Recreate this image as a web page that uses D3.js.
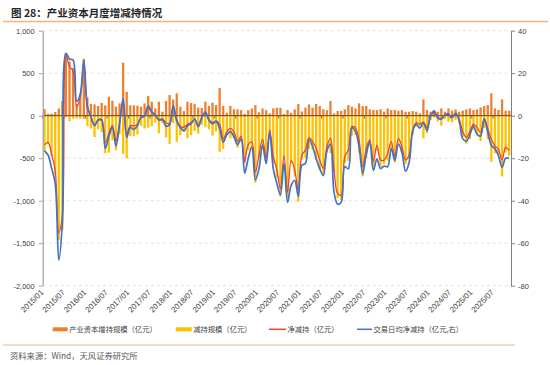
<!DOCTYPE html>
<html><head><meta charset="utf-8">
<script src="https://cdn.jsdelivr.net/npm/d3@7"></script>
<style>
body{margin:0;background:#fff;}
text{font-family:"Liberation Sans","Noto Sans CJK SC",Arial,sans-serif;}
.cjk{font-family:"Noto Sans CJK SC","Liberation Sans",sans-serif;}
</style></head>
<body><svg id="c" width="550" height="365"></svg>
<script>
// ---- categories ----
const months = [];
for (let y = 2015; y <= 2025; y++) for (let m = 1; m <= 12; m++) {
  if (y === 2025 && m > 11) break;
  months.push(y + "/" + String(m).padStart(2, "0"));
}
const tickLabels = ["2015/01","2015/07","2016/01","2016/07","2017/01","2017/07","2018/01","2018/07","2019/01","2019/07","2020/01","2020/07","2021/01","2021/07","2022/01","2022/07","2023/01","2023/07","2024/01","2024/07","2025/01","2025/07"];
const leftTicks = [-2000,-1500,-1000,-500,0,500,1000];
const rightTicks = [-80,-60,-40,-20,0,20,40];

// ---- series (亿元) ----
const increase = [78,22,25,45,85,172,735,640,560,140,255,670,215,140,133,114,150,
122,224,176,106,145,624,282,122,122,118,105,145,231,165,86,165,47,172,243,190,263,106,55,165,150,140,95,
90,165,115,155,125,325,115,35,115,75,75,65,20,65,85,125,40,85,65,27,86,94,94,20,67,35,75,137,50,95,133,95,137,113,75,65,173,27,55,55,75,125,
106,86,145,114,114,75,67,67,75,47,86,67,67,59,67,47,47,55,47,27,192,67,47,60,47,86,47,86,59,75,47,59,75,86,67,75,98,114,125,263,86,67,192,59,59];
const decrease = [-420,-336,-480,-690,-1460,-1340,-15,-64,-35,-34,-35,-40,-120,-150,-250,-160,-195,
-442,-434,-290,-406,-220,-450,-500,-237,-242,-220,-120,-150,-140,-125,-80,-208,-85,-255,-335,-85,-307,-230,-190,-265,-230,-180,-210,
-110,-135,-160,-235,-185,-425,-390,-225,-265,-265,-375,-305,-560,-405,-395,-790,-500,-360,-560,-195,-566,-730,-950,-490,-965,-560,-715,-1010,-515,-500,-390,-400,-520,-635,-695,-430,-440,-665,-970,-990,-555,-530,
-235,-226,-435,-714,-498,-361,-608,-412,-597,-569,-529,-373,-549,-326,-432,-569,-510,-224,-129,-125,-267,-208,-51,-25,-67,-117,-39,-70,-79,-48,-90,-247,-330,-274,-165,-216,-298,-145,-274,-541,-443,-463,-714,-432,-471];
const netChange = [-342,-314,-455,-645,-1375,-1168,720,576,525,106,220,630,95,-10,-117,-46,-45,
-320,-210,-114,-300,-75,174,-218,-115,-120,-102,-15,-5,91,40,6,-43,-38,-83,-92,105,-44,-124,-135,-100,-80,-40,-115,
-20,30,-45,-80,-60,-100,-275,-190,-150,-190,-300,-240,-540,-340,-310,-665,-460,-275,-495,-168,-480,-636,-856,-470,-898,-525,-640,-873,-465,-405,-257,-305,-383,-522,-620,-365,-267,-638,-915,-935,-480,-405,
-129,-140,-290,-600,-384,-286,-541,-345,-522,-522,-443,-306,-482,-267,-365,-522,-463,-169,-82,-98,-75,-141,-4,35,-20,-31,8,16,-20,27,-43,-188,-255,-188,-98,-141,-200,-31,-149,-278,-357,-396,-522,-373,-412];
const dailyNet = [-16.6,-18.5,-24.8,-31.8,-68,-50,29.3,26.7,26.2,6.8,10,26,4.5,-0.6,-4.6,-2.1,-2.1,
-15.4,-9.9,-5.5,-14.3,-4.2,8.2,-10.2,-5.5,-6.5,-4.6,-0.8,-0.2,4.6,1.9,0.3,-2.0,-1.9,-5.0,-4.2,4.8,-2.6,-5.6,-7.1,-4.8,-3.8,-1.6,-5.2,
-1.0,1.8,-2.1,-3.8,-2.7,-6.0,-12.5,-9.0,-7.5,-9.9,-13.6,-10.9,-27.0,-20.0,-14.8,-30.2,-25.0,-13.8,-22.5,-8.0,-25.0,-31.8,-37.2,-22.4,-40.8,-32.8,-30.5,-38.0,-23.3,-22.5,-11.2,-14.5,-20.2,-24.9,-28.2,-16.6,-13.4,-36.0,-41.6,-40.7,-24.0,-25.0,
-5.6,-7.4,-14.5,-27.3,-18.3,-12.4,-25.8,-20.3,-24.9,-23.7,-24.0,-15.3,-21.0,-13.4,-17.4,-26.1,-22.0,-7.3,-4.1,-5.8,-3.4,-7.0,-0.2,2.3,-1.0,-1.6,0.4,0.8,-0.9,1.2,-2.3,-10.8,-12.1,-9.0,-4.9,-8.8,-9.5,-1.6,-7.8,-14.0,-15.5,-18.9,-24.3,-20.0,-20.0];

const legendItems = [
  {name:"产业资本增持规模（亿元）", type:"bar", color:"#F07F2C", x:52.7, w:15},
  {name:"减持规模（亿元）", type:"bar", color:"#FFC000", x:175.7, w:16},
  {name:"净减持（亿元）", type:"line", color:"#E8452E", x:269, w:17},
  {name:"交易日均净减持（亿元,右）", type:"line", color:"#4472C4", x:357, w:15}
];

// ---- layout ----
const svg = d3.select("#c");
const L = 42.7, R = 511, T = 30.7, B = 285.7;
const x = d3.scaleBand().domain(months).range([L, R]).paddingInner(0.36).paddingOuter(0.18);
const yL = d3.scaleLinear().domain([-2000, 1000]).range([B, T]);
const yR = d3.scaleLinear().domain([-80, 40]).range([B, T]);
const cx = d => x(d) + x.bandwidth() / 2;
const fmt = v => d3.format(",")(v).replace("\u2212", "-");

// title
svg.append("text").attr("class","cjk").attr("x", 11).attr("y", 16.5)
  .attr("font-size", 10.5).attr("font-weight", "bold").attr("fill", "#262626")
  .text("图 28：产业资本月度增减持情况");
svg.append("line").attr("x1", 3).attr("x2", 548).attr("y1", 21.5).attr("y2", 21.5)
  .attr("stroke", "#F4B183").attr("stroke-width", 1.3);

// gridlines
svg.append("g").selectAll("line").data(leftTicks.filter(d => d !== 0)).join("line")
  .attr("x1", L).attr("x2", R).attr("y1", d => yL(d)).attr("y2", d => yL(d))
  .attr("stroke", "#d9d9d9").attr("stroke-width", 0.8).attr("stroke-dasharray", "3,3");

// bars
const data = months.map((m, i) => ({m, inc: increase[i], dec: decrease[i], net: netChange[i], avg: dailyNet[i]}));
svg.append("g").selectAll("rect").data(data).join("rect")
  .attr("x", d => x(d.m)).attr("width", x.bandwidth())
  .attr("y", d => yL(d.inc)).attr("height", d => yL(0) - yL(d.inc))
  .attr("fill", "#F07F2C");
svg.append("g").selectAll("rect").data(data).join("rect")
  .attr("x", d => x(d.m)).attr("width", x.bandwidth())
  .attr("y", yL(0)).attr("height", d => yL(d.dec) - yL(0))
  .attr("fill", "#FFC000");

// zero axis line + ticks
svg.append("line").attr("x1", L).attr("x2", R).attr("y1", yL(0)).attr("y2", yL(0))
  .attr("stroke", "#6e5c2e").attr("stroke-width", 1.2);
const step = x.step();
svg.append("g").selectAll("line").data(tickLabels).join("line")
  .attr("x1", d => x(d) - (step - x.bandwidth()) / 2).attr("x2", d => x(d) - (step - x.bandwidth()) / 2)
  .attr("y1", yL(0)).attr("y2", yL(0) + 3)
  .attr("stroke", "#595959").attr("stroke-width", 0.8);

// lines
svg.append("path").datum(data)
  .attr("d", d3.line().x(d => cx(d.m)).y(d => yL(d.net)).curve(d3.curveCatmullRom.alpha(0.5)))
  .attr("fill", "none").attr("stroke", "#E8452E").attr("stroke-width", 1.3);
svg.append("path").datum(data)
  .attr("d", d3.line().x(d => cx(d.m)).y(d => yR(d.avg)).curve(d3.curveCatmullRom.alpha(0.5)))
  .attr("fill", "none").attr("stroke", "#4472C4").attr("stroke-width", 1.7);

// left axis
const gl = svg.append("g").attr("transform", `translate(${L},0)`)
  .call(d3.axisLeft(yL).tickValues(leftTicks).tickFormat(fmt).tickSize(4).tickSizeOuter(0).tickPadding(4));
gl.select(".domain").attr("stroke", "#a6a6a6").attr("stroke-width", 1.3);
gl.selectAll(".tick line").attr("stroke", "#a6a6a6");
gl.selectAll("text").attr("font-size", 7.5).attr("fill", "#404040");

// right axis
const gr = svg.append("g").attr("transform", `translate(${R},0)`)
  .call(d3.axisRight(yR).tickValues(rightTicks).tickFormat(fmt).tickSize(4).tickSizeOuter(0).tickPadding(3));
gr.select(".domain").attr("stroke", "#808080").attr("stroke-width", 1);
gr.selectAll(".tick line").attr("stroke", "#808080");
gr.selectAll("text").attr("font-size", 7.5).attr("fill", "#404040");

// x labels
svg.append("g").selectAll("text").data(tickLabels).join("text")
  .attr("transform", d => `translate(${cx(d) - 0.5},${293}) rotate(-45)`)
  .attr("text-anchor", "end").attr("font-size", 7.8).attr("fill", "#404040")
  .text(d => d);

// legend
const lg = svg.append("g");
legendItems.forEach(it => {
  if (it.type === "bar") {
    lg.append("rect").attr("x", it.x).attr("y", 327.3).attr("width", it.w).attr("height", 4).attr("fill", it.color);
  } else {
    lg.append("line").attr("x1", it.x).attr("x2", it.x + it.w).attr("y1", 329.3).attr("y2", 329.3)
      .attr("stroke", it.color).attr("stroke-width", 1.5);
  }
  lg.append("text").attr("class","cjk").attr("x", it.x + it.w + 1.5).attr("y", 332)
    .attr("font-size", 7.3).attr("fill", "#404040").text(it.name);
});

// bottom rule + source
svg.append("line").attr("x1", 3).attr("x2", 515).attr("y1", 345).attr("y2", 345)
  .attr("stroke", "#F4B183").attr("stroke-width", 1.2);
svg.append("text").attr("class","cjk").attr("x", 10).attr("y", 359)
  .attr("font-size", 8.3).attr("fill", "#595959").text("资料来源：Wind，天风证券研究所");
</script></body></html>
